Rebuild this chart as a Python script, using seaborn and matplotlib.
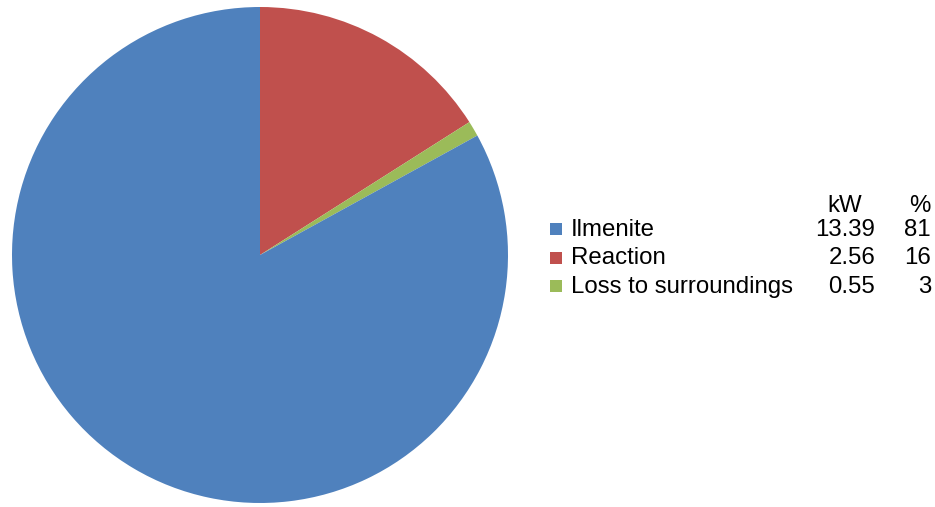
import matplotlib
matplotlib.use("Agg")
import matplotlib.pyplot as plt
import seaborn as sns
from matplotlib.patches import Rectangle

sns.set_theme(style="white")
plt.rcParams['font.family'] = ['Liberation Sans', 'DejaVu Sans']

# Data
categories = ["Ilmenite", "Reaction", "Loss to surroundings"]
kw_values = ["13.39", "2.56", "0.55"]
pct_values = ["81", "16", "3"]
# Slice shares as drawn in the picture (percent)
pie_shares = [83, 16, 1]

colors = ["#4F81BD", "#C0504D", "#9BBB59"]

fig = plt.figure(figsize=(9.35, 5.07), dpi=100)
W, H = 935, 507

# Pie axes: centre (260, 255), radius 248 px
cx, cy, r = 260, 255, 248
ax = fig.add_axes([(cx - r) / W, (H - cy - r) / H, 2 * r / W, 2 * r / H])
# clockwise from 12 o'clock: Reaction, Loss, Ilmenite
order = [1, 2, 0]
ax.pie([pie_shares[i] for i in order], colors=[colors[i] for i in order],
       startangle=90, counterclock=False,
       wedgeprops=dict(linewidth=0, antialiased=True))
ax.set_xlim(-1, 1)
ax.set_ylim(-1, 1)
ax.set_aspect('equal')
ax.axis('off')

# Legend table
fs = 17.3
def fy(y):
    return 1 - y / H
def fx(x):
    return x / W

fig.text(fx(845), fy(212), "kW", ha='center', va='baseline', fontsize=fs, color='black')
fig.text(fx(931), fy(212), "%", ha='right', va='baseline', fontsize=fs, color='black')
row_base = [236, 264.5, 293]
for i, cat in enumerate(categories):
    yb = row_base[i]
    fig.patches.append(Rectangle((fx(550), fy(yb - 1)), 12 / W, 12 / H,
                                 transform=fig.transFigure, facecolor=colors[i],
                                 edgecolor='none'))
    fig.text(fx(571), fy(yb), cat, ha='left', va='baseline', fontsize=fs, color='black')
    fig.text(fx(875), fy(yb), kw_values[i], ha='right', va='baseline', fontsize=fs, color='black')
    fig.text(fx(931), fy(yb), pct_values[i], ha='right', va='baseline', fontsize=fs, color='black')

fig.savefig("out.png", dpi=100, facecolor='white')
